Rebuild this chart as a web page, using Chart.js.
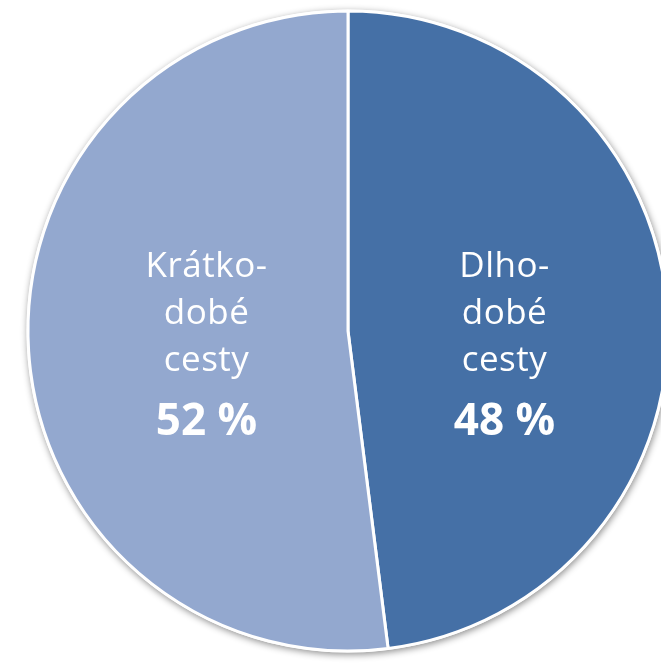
<!DOCTYPE html>
<html>
<head>
<meta charset="utf-8">
<script src="https://cdn.jsdelivr.net/npm/chart.js@4/dist/chart.umd.min.js"></script>
<style>
  html, body { margin: 0; padding: 0; background: #ffffff; overflow: hidden; }
  #wrap { position: absolute; left: 0; top: 0; width: 661px; height: 665px; }
</style>
</head>
<body>
<div id="wrap"><canvas id="c" width="661" height="665"></canvas></div>
<script>
const categories = ["Dlho-dobé cesty", "Krátko-dobé cesty"];
const labelLines = [["Dlho-", "dobé", "cesty"], ["Krátko-", "dobé", "cesty"]];
const values = [48, 52];
const colors = ["#4570a6", "#93a8cf"];

const shadowPlugin = {
  id: 'pieShadow',
  beforeDatasetsDraw(chart) {
    const meta = chart.getDatasetMeta(0);
    if (!meta.data.length) return;
    const a = meta.data[0];
    const ctx = chart.ctx;
    ctx.save();
    ctx.shadowColor = 'rgba(0,0,0,0.45)';
    ctx.shadowBlur = 7;
    ctx.shadowOffsetX = 1;
    ctx.shadowOffsetY = 2;
    ctx.fillStyle = '#ffffff';
    ctx.beginPath();
    ctx.arc(a.x, a.y, a.outerRadius + 1.5, 0, Math.PI * 2);
    ctx.fill();
    ctx.restore();
  }
};

const labelPlugin = {
  id: 'sliceLabels',
  afterDatasetsDraw(chart) {
    const meta = chart.getDatasetMeta(0);
    const ctx = chart.ctx;
    const fractions = [0.49, 0.443];
    const baselines = [-54, -7, 40];
    meta.data.forEach((arc, i) => {
      const mid = (arc.startAngle + arc.endAngle) / 2;
      const x = arc.x + Math.cos(mid) * arc.outerRadius * fractions[i];
      const cy = arc.y;
      ctx.save();
      ctx.fillStyle = '#ffffff';
      ctx.textAlign = 'center';
      ctx.textBaseline = 'alphabetic';
      ctx.font = '35px "Open Sans"';
      ctx.letterSpacing = '0.5px';
      labelLines[i].forEach((line, k) => {
        ctx.fillText(line, x, cy + baselines[k]);
      });
      ctx.font = 'bold 44px "Open Sans"';
      ctx.letterSpacing = '0px';
      ctx.fillText(values[i] + ' %', x, cy + 104);
      ctx.restore();
    });
  }
};

new Chart(document.getElementById('c'), {
  type: 'pie',
  data: {
    labels: categories,
    datasets: [{
      data: values,
      backgroundColor: colors,
      borderColor: '#ffffff',
      borderWidth: 3,
      clip: false
    }]
  },
  options: {
    responsive: false,
    animation: false,
    radius: 320,
    rotation: 0,
    layout: { padding: { left: 35, right: 0, top: 0, bottom: 3 } },
    plugins: {
      legend: { display: false },
      tooltip: { enabled: false },
      title: { display: false }
    }
  },
  plugins: [shadowPlugin, labelPlugin]
});
</script>
</body>
</html>
